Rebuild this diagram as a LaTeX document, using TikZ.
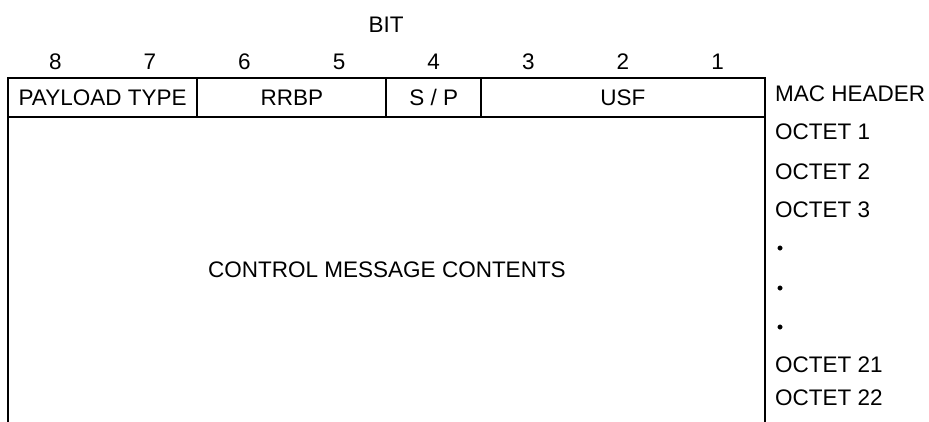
\documentclass[tikz,border=0pt]{standalone}
\usepackage{fontspec}
\setmainfont{Liberation Sans}
\usetikzlibrary{positioning}

\begin{document}
\begin{tikzpicture}[x=1pt, y=-1pt,
every node/.style={font=\fontsize{22.5}{26}\selectfont},
field/.style={draw=black, line width=2pt, minimum height=39pt, inner sep=0pt, outer sep=0pt},
rowlabel/.style={anchor=west, inner sep=0pt},
dot/.style={circle, draw=black, fill=black, minimum size=4.5pt, inner sep=0pt},
frame/.style={draw=black, line width=2pt},
]
\useasboundingbox (0,0) rectangle (929,421);

%Bit numbers
\node (bit) at (386,25) {BIT};
\foreach \b [count=\i] in {8,7,6,5,4,3,2,1}
  \node (bit\b) at (94.6*\i-39.3,61.5) {\b};

%MAC header fields
\node[field, minimum width=189.2pt] (ptype) at (102.6,97.5) {PAYLOAD TYPE};
\node[field, minimum width=189.2pt] (rrbp) [right=0pt of ptype] {RRBP};
\node[field, minimum width=94.6pt] (sp) [right=0pt of rrbp] {S / P};
\node[field, minimum width=283.8pt] (usf) [right=0pt of sp] {USF};

%Message body
\coordinate (botL) at (ptype.south west |- 0,425);
\coordinate (botR) at (usf.south east |- 0,425);
\draw[frame] (ptype.south west) -- (botL);
\draw[frame] (usf.south east) -- (botR);
\node (contents) at (387,270) {CONTROL MESSAGE CONTENTS};

%Octet labels
\foreach \t/\y [count=\i] in {MAC HEADER/94, OCTET 1/132, OCTET 2/172, OCTET 3/210, OCTET 21/365, OCTET 22/398}
  \node[rowlabel] (row\i) at (775,\y) {\t};
\foreach \y [count=\i] in {248,288,327}
  \node[dot] (dot\i) at (780,\y) {};
\end{tikzpicture}
\end{document}
